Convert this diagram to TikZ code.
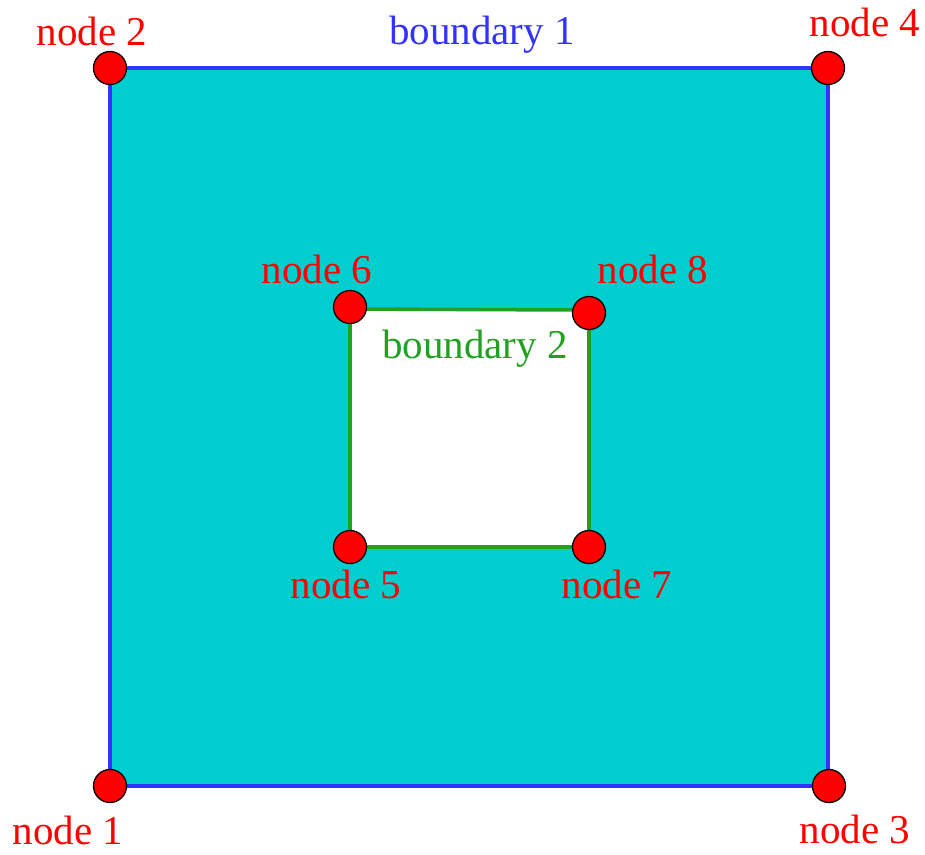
\documentclass[tikz,border=0pt]{standalone}
\usepackage{fontspec}
\setmainfont{Liberation Serif}
\definecolor{cyanfill}{RGB}{0,206,206}
\definecolor{bluel}{RGB}{51,51,255}
\definecolor{greenl}{RGB}{34,160,34}
\begin{document}
\begin{tikzpicture}[x=1pt,y=-1pt,
  dot/.style={circle,draw=black,fill=red,line width=1.3pt,minimum size=33pt,inner sep=0pt},
  lbl/.style={anchor=base,inner sep=0pt,font=\fontsize{41}{41}\selectfont},
  nlbl/.style={lbl,text=red}]
\useasboundingbox (0,0) rectangle (925,854);
% corner coordinates
\coordinate (p1) at (110,786);
\coordinate (p2) at (110,68);
\coordinate (p3) at (828,786);
\coordinate (p4) at (828,68);
\coordinate (p5) at (350,547);
\coordinate (p6) at (350,309);
\coordinate (p7) at (589,547);
\coordinate (p8) at (589,310);
% regions
\fill[cyanfill] (p1) -- (p2) -- (p4) -- (p3) -- cycle;
\fill[white] (p5) -- (p6) -- (p8) -- (p7) -- cycle;
% boundaries
\draw[bluel,line width=3.6pt] (p1) -- (p2) -- (p4) -- (p3) -- cycle;
\draw[greenl,line width=3.6pt] (p5) -- (p6) -- (p8) -- (p7) -- cycle;
% nodes
\node[dot] (n1) at (p1) {};
\node[dot] (n2) at (p2) {};
\node[dot] (n3) at ([xshift=1pt]p3) {};
\node[dot] (n4) at (p4) {};
\node[dot] (n5) at (p5) {};
\node[dot] (n6) at ([yshift=2pt]p6) {};
\node[dot] (n7) at (p7) {};
\node[dot] (n8) at ([yshift=-3pt]p8) {};
% labels
\node[nlbl] (l2) at (92,45) {node 2};
\node[nlbl] (l4) at (865,36) {node 4};
\node[nlbl] (l6) at (317,283) {node 6};
\node[nlbl] (l8) at (653,283) {node 8};
\node[nlbl] (l5) at (346,598) {node 5};
\node[nlbl] (l7) at (617,598) {node 7};
\node[nlbl] (l1) at (68,844) {node 1};
\node[nlbl] (l3) at (855,843) {node 3};
\node[lbl,text=bluel] (b1) at (482,44) {boundary 1};
\node[lbl,text=greenl] (b2) at (475,358) {boundary 2};
\end{tikzpicture}
\end{document}
